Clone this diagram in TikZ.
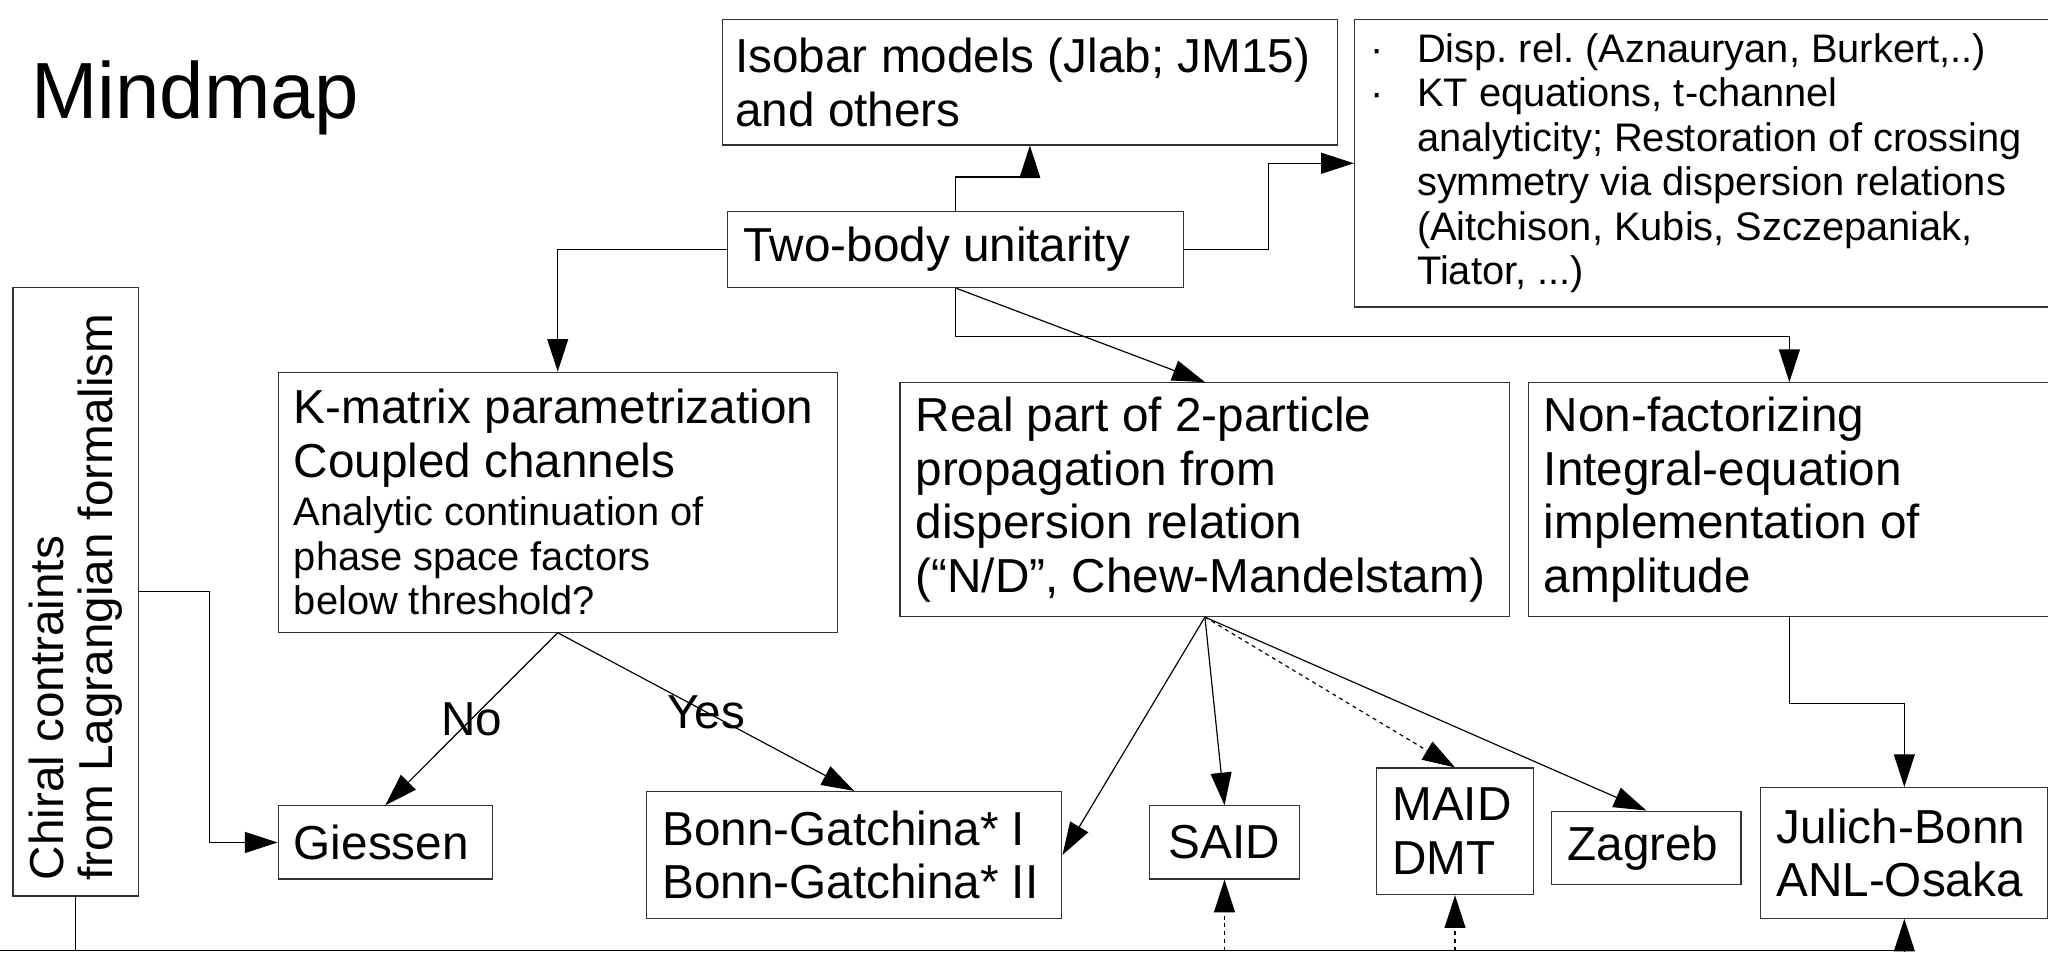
\documentclass[tikz,border=0pt]{standalone}
\usepackage{fontspec}
\setmainfont{Liberation Sans}
\usetikzlibrary{arrows.meta,positioning}

\newcommand\boxfont{\fontsize{36.5}{41}\selectfont}
\newcommand\notefont{\fontsize{30.5}{34}\selectfont}
\newcommand\mapheadfont{\fontsize{61}{72}\selectfont}

\begin{document}
\frenchspacing
\begin{tikzpicture}[x=1pt,y=-1pt,
  box/.style={draw=black!80,line width=0.9pt,inner xsep=12pt,inner ysep=0pt,align=flush left,font=\boxfont},
  arr/.style={draw,line width=0.9pt,-{Triangle[length=25pt,width=16pt]}},
  lbl/.style={font=\boxfont,inner sep=0pt}]
\useasboundingbox (0,0) rectangle (1568,729);
\coordinate (base) at (0,728);

\node (title) [anchor=base west,inner sep=0pt,font=\mapheadfont] at (24,91) {Mindmap};

% top row
\node (isobar) [box,inner xsep=10pt,text width=451,minimum height=96] at (788.5,63) {Isobar models (Jlab; JM15)\\and others};
\node (two) [box,text width=325,minimum height=58] at (731.5,191) {Two-body unitarity};
\node (disp) [box,font=\notefont,text width=514,minimum height=220] at (1306,125)
  {\makebox[36pt][l]{·}Disp. rel. (Aznauryan, Burkert,..)\\
   \makebox[36pt][l]{·}KT equations, t-channel\\
   \hspace*{36pt}analyticity; Restoration of crossing\\
   \hspace*{36pt}symmetry via dispersion relations\\
   \hspace*{36pt}(Aitchison, Kubis, Szczepaniak,\\
   \hspace*{36pt}Tiator, ...)};

% middle row
\node (chiral) [box,rotate=90,text width=442,minimum height=96] at (58,453)
  {\fontsize{36.5}{37}\selectfont Chiral contraints\\from Lagrangian formalism\par};
\node (kmat) [box,text width=404,minimum height=199] at (427,384.5)
  {K-matrix parametrization\\Coupled channels\\[3pt]
   {\notefont Analytic continuation of\\phase space factors\\below threshold?\par}};
\node (real) [box,text width=443,minimum height=179] at (922.5,382.5)
  {Real part of 2-particle\\propagation from\\dispersion relation\\(“N/D”, Chew-Mandelstam)};
\node (nonf) [box,text width=376,minimum height=179] at (1370,382.5)
  {Non-factorizing\\Integral-equation\\implementation of\\amplitude};

% bottom row
\node (giessen) [box,text width=140,minimum height=56] at (295,645) {Giessen};
\node (bonn) [box,text width=294,minimum height=97] at (654,654.5) {Bonn-Gatchina* I\\Bonn-Gatchina* II};
\node (said) [box,align=center,text width=91,minimum height=56] at (937.5,645) {SAID};
\node (maid) [box,text width=96,minimum height=97] at (1114,636.5) {MAID\\DMT};
\node (zagreb) [box,text width=121,minimum height=56] at (1260.5,649) {Zagreb};
\node (julich) [box,text width=196,minimum height=100] at (1458,653) {Julich-Bonn\\ANL-Osaka};

% connectors
\draw[arr] (two.north) -- ++(0,-26) -| (isobar.south);
\draw[arr] (two.east) -- ++(65,0) |- (disp.west);
\draw[arr] (two.west) -| (kmat.north);
\draw[arr] (two.south) -- (real.north);
\draw[arr] (two.south) -- ++(0,37) -| (nonf.north);

\draw[arr] (kmat.south) -- node[lbl] {No} (giessen.north);
\draw[arr] (kmat.south) -- node[lbl] {Yes} (bonn.north);

\draw[arr] (real.south) -- (bonn.east);
\draw[arr] (real.south) -- (said.north);
\draw[arr,dashed] (real.south) -- (maid.north);
\draw[arr] (real.south) -- (zagreb.north);

\draw[arr] (nonf.south) -- ++(0,66) -| (julich.north);
\draw[arr] (chiral.south) -- ++(54,0) |- (giessen.west);
\draw[arr] (chiral.west) |- (base) -| (julich.south);
\draw[arr,dashed] (said.south |- base) -- (said.south);
\draw[arr,dashed] (maid.south |- base) -- (maid.south);
\end{tikzpicture}
\end{document}
